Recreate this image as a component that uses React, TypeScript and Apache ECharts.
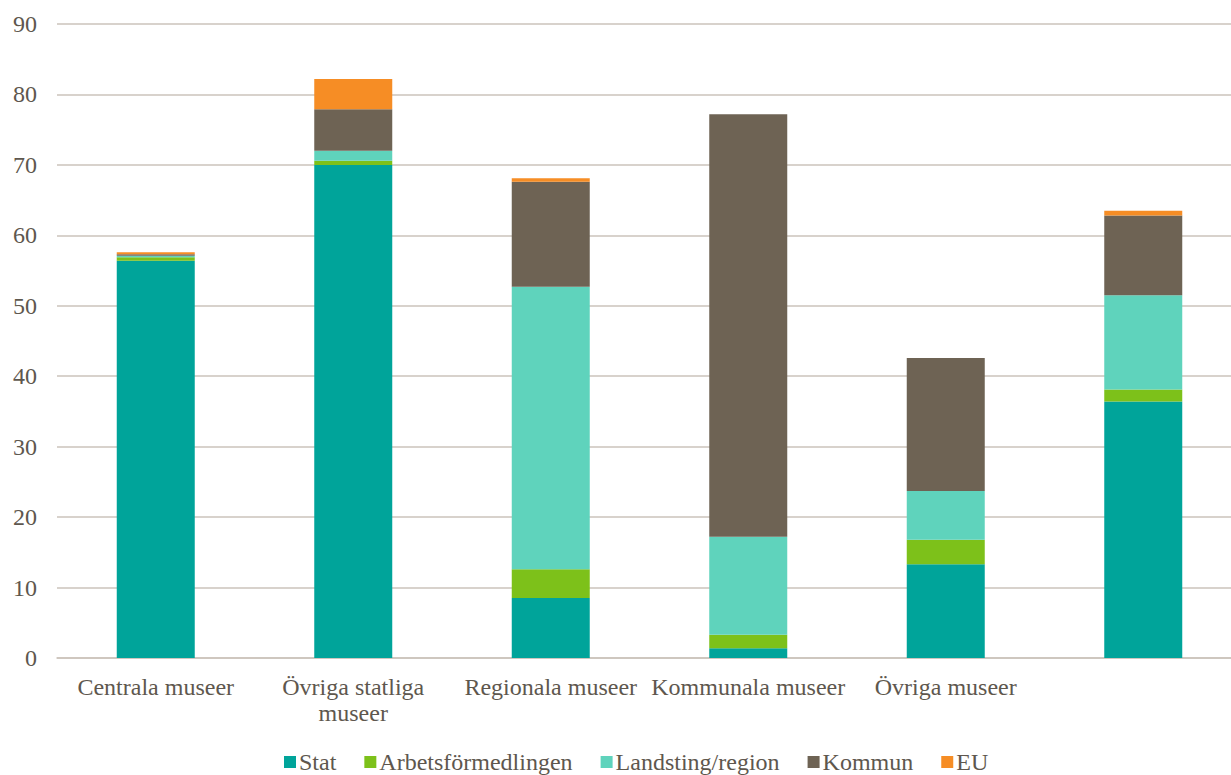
import React, { useEffect, useRef } from "react";
import * as echarts from "echarts";

const categories = ["Centrala museer", "Övriga statliga\nmuseer", "Regionala museer", "Kommunala museer", "Övriga museer", ""];
const stat = [56.4, 70.0, 8.5, 1.4, 13.3, 36.4];
const arbetsformedlingen = [0.5, 0.6, 4.1, 1.9, 3.5, 1.7];
const landsting = [0.2, 1.4, 40.1, 13.9, 6.9, 13.4];
const kommun = [0.2, 5.9, 14.9, 60.0, 18.9, 11.3];
const eu = [0.3, 4.3, 0.5, 0, 0, 0.7];
const yTicks = [0, 10, 20, 30, 40, 50, 60, 70, 80, 90];

const seriesDefs = [
  { name: "Stat", data: stat, color: "#00A49A" },
  { name: "Arbetsförmedlingen", data: arbetsformedlingen, color: "#7DC11A" },
  { name: "Landsting/region", data: landsting, color: "#5FD3BC" },
  { name: "Kommun", data: kommun, color: "#6E6354" },
  { name: "EU", data: eu, color: "#F68D25" },
];

const textColor = "#5E574E";
const font = "'Liberation Serif', 'Times New Roman', serif";

export default function App() {
  const ref = useRef<HTMLDivElement>(null);
  useEffect(() => {
    document.body.style.margin = "0";
    document.body.style.overflow = "hidden";
    const chart = echarts.init(ref.current!, null, { renderer: "svg" });
    chart.setOption({
      animation: false,
      textStyle: { fontFamily: font },
      grid: { left: 57, top: 24, width: 1185, bottom: 117, containLabel: false },
      legend: {
        left: 279,
        top: 745,
        itemWidth: 12,
        itemHeight: 12,
        itemGap: 28,
        icon: "rect",
        textStyle: { fontSize: 24, color: textColor, fontFamily: font, padding: [0, 0, 0, -2] },
        data: seriesDefs.map((s) => s.name),
      },
      xAxis: {
        type: "category",
        data: categories,
        axisLine: { show: true, lineStyle: { color: "#CBC3BB", width: 1.5 } },
        axisTick: { show: false },
        axisLabel: {
          fontSize: 24,
          color: textColor,
          fontFamily: font,
          margin: 16,
          lineHeight: 26,
          interval: 0,
        },
      },
      yAxis: {
        type: "value",
        min: 0,
        max: 90,
        interval: 10,
        axisLabel: {
          fontSize: 24,
          color: textColor,
          fontFamily: font,
          margin: 20,
          formatter: (v: number) => (yTicks.includes(v) ? String(v) : ""),
        },
        axisLine: { show: false },
        axisTick: { show: false },
        splitLine: { lineStyle: { color: "#CBC3BB", width: 1.5 } },
      },
      series: seriesDefs.map((s) => ({
        name: s.name,
        type: "bar",
        stack: "total",
        barWidth: 78,
        data: s.data,
        itemStyle: { color: s.color },
      })),
    });
    return () => chart.dispose();
  }, []);
  return <div ref={ref} style={{ position: "absolute", left: 0, top: 0, width: 1242, height: 775 }} />;
}
